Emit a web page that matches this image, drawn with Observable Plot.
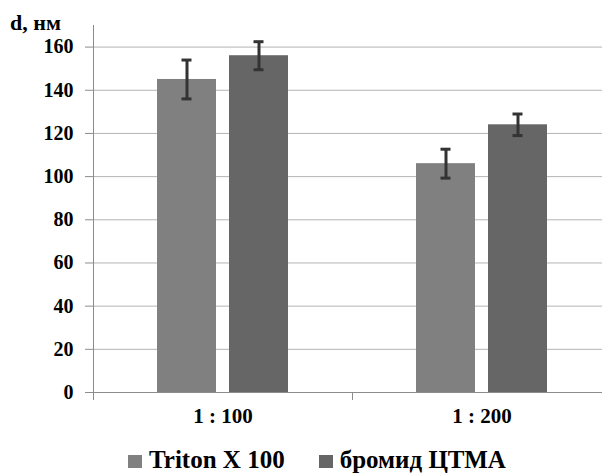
<!DOCTYPE html>
<html>
<head>
<meta charset="utf-8">
<script src="https://cdn.jsdelivr.net/npm/d3@7"></script>
<script src="https://cdn.jsdelivr.net/npm/@observablehq/plot@0.6"></script>
<style>
  html, body { margin: 0; padding: 0; background: #ffffff; overflow: hidden; }
  #wrap { position: relative; width: 602px; height: 475px; font-family: "Liberation Serif", "DejaVu Serif", serif; font-weight: bold; color: #000; }
  #ylabel { position: absolute; left: 10px; top: 12px; font-size: 22px; line-height: 22px; white-space: nowrap; }
  #chart { position: absolute; left: 0; top: 0; }
  #legend { position: absolute; left: 128px; top: 447px; font-size: 25px; line-height: 25px; white-space: nowrap; }
  #legend .item { display: inline-block; margin-right: 34px; }
  #legend .sw { display: inline-block; width: 14px; height: 13px; margin-right: 7px; vertical-align: baseline; }
</style>
</head>
<body>
<div id="wrap">
  <div id="chart"></div>
  <div id="ylabel">d, нм</div>
  <div id="legend"></div>
</div>
<script>
// ---- data ----
const categories = ["1 : 100", "1 : 200"];
const series = ["Triton X 100", "бромид ЦТМА"];
const tritonValues = [145, 106];
const tritonErrors = [9, 6.7];
const ctmaValues = [156, 124];
const ctmaErrors = [6.5, 5];
const yTicks = [0, 20, 40, 60, 80, 100, 120, 140, 160];
const seriesColors = ["#808080", "#666666"];

const rows = [];
categories.forEach((c, i) => {
  rows.push({cat: c, series: series[0], value: tritonValues[i], err: tritonErrors[i]});
  rows.push({cat: c, series: series[1], value: ctmaValues[i], err: ctmaErrors[i]});
});

// ---- layout ----
const W = 602, H = 440;
const mL = 93, mR = -9, mT = 25, mB = 48;
const halfBand = (W - mL - mR) / categories.length / 2;
const FONT = "'Liberation Serif', 'DejaVu Serif', serif";

const chart = Plot.plot({
  width: W,
  height: H,
  marginLeft: mL,
  marginRight: mR,
  marginTop: mT,
  marginBottom: mB,
  style: {fontFamily: FONT, fontWeight: "bold", fontSize: "20px", background: "transparent", color: "#000"},
  fx: {domain: categories, padding: 0, label: null, axis: null},
  x: {domain: series, paddingInner: 0.18, paddingOuter: 0.888, axis: null},
  y: {domain: [0, 170], axis: null},
  color: {domain: series, range: seriesColors},
  marks: [
    Plot.gridY(yTicks, {stroke: "#b4b4b4", strokeOpacity: 1}),
    Plot.barY(rows, {fx: "cat", x: "series", y: "value", fill: "series"}),
    Plot.ruleX(rows, {fx: "cat", x: "series", y1: d => d.value - d.err, y2: d => d.value + d.err, stroke: "#333", strokeWidth: 3}),
    Plot.tickY(rows, {fx: "cat", x: "series", y: d => d.value - d.err, stroke: "#333", strokeWidth: 3, insetLeft: 24.5, insetRight: 24.5}),
    Plot.tickY(rows, {fx: "cat", x: "series", y: d => d.value + d.err, stroke: "#333", strokeWidth: 3, insetLeft: 24.5, insetRight: 24.5}),
    Plot.ruleY([0], {stroke: "#8c8c8c"}),
    Plot.frame({anchor: "left", facetAnchor: "left", stroke: "#8c8c8c"}),
    Plot.axisY(yTicks, {anchor: "left", tickSize: 8, tickPadding: 12, stroke: "#8c8c8c", fill: "#000", fontSize: 20, fontWeight: "bold", fontFamily: FONT, label: null, tickFormat: d => String(d)}),
    Plot.axisFx({anchor: "bottom", tickSize: 8, tickFormat: () => "", dx: -halfBand, stroke: "#8c8c8c", label: null}),
    Plot.axisFx({anchor: "bottom", tickSize: 0, tickPadding: 16, fill: "#000", fontSize: 21, fontWeight: "bold", fontFamily: FONT, label: null})
  ]
});
document.getElementById("chart").appendChild(chart);

// ---- legend ----
const legend = document.getElementById("legend");
series.forEach((s, i) => {
  const item = document.createElement("span");
  item.className = "item";
  const sw = document.createElement("span");
  sw.className = "sw";
  sw.style.background = seriesColors[i];
  item.appendChild(sw);
  item.appendChild(document.createTextNode(s));
  legend.appendChild(item);
});
</script>
</body>
</html>
